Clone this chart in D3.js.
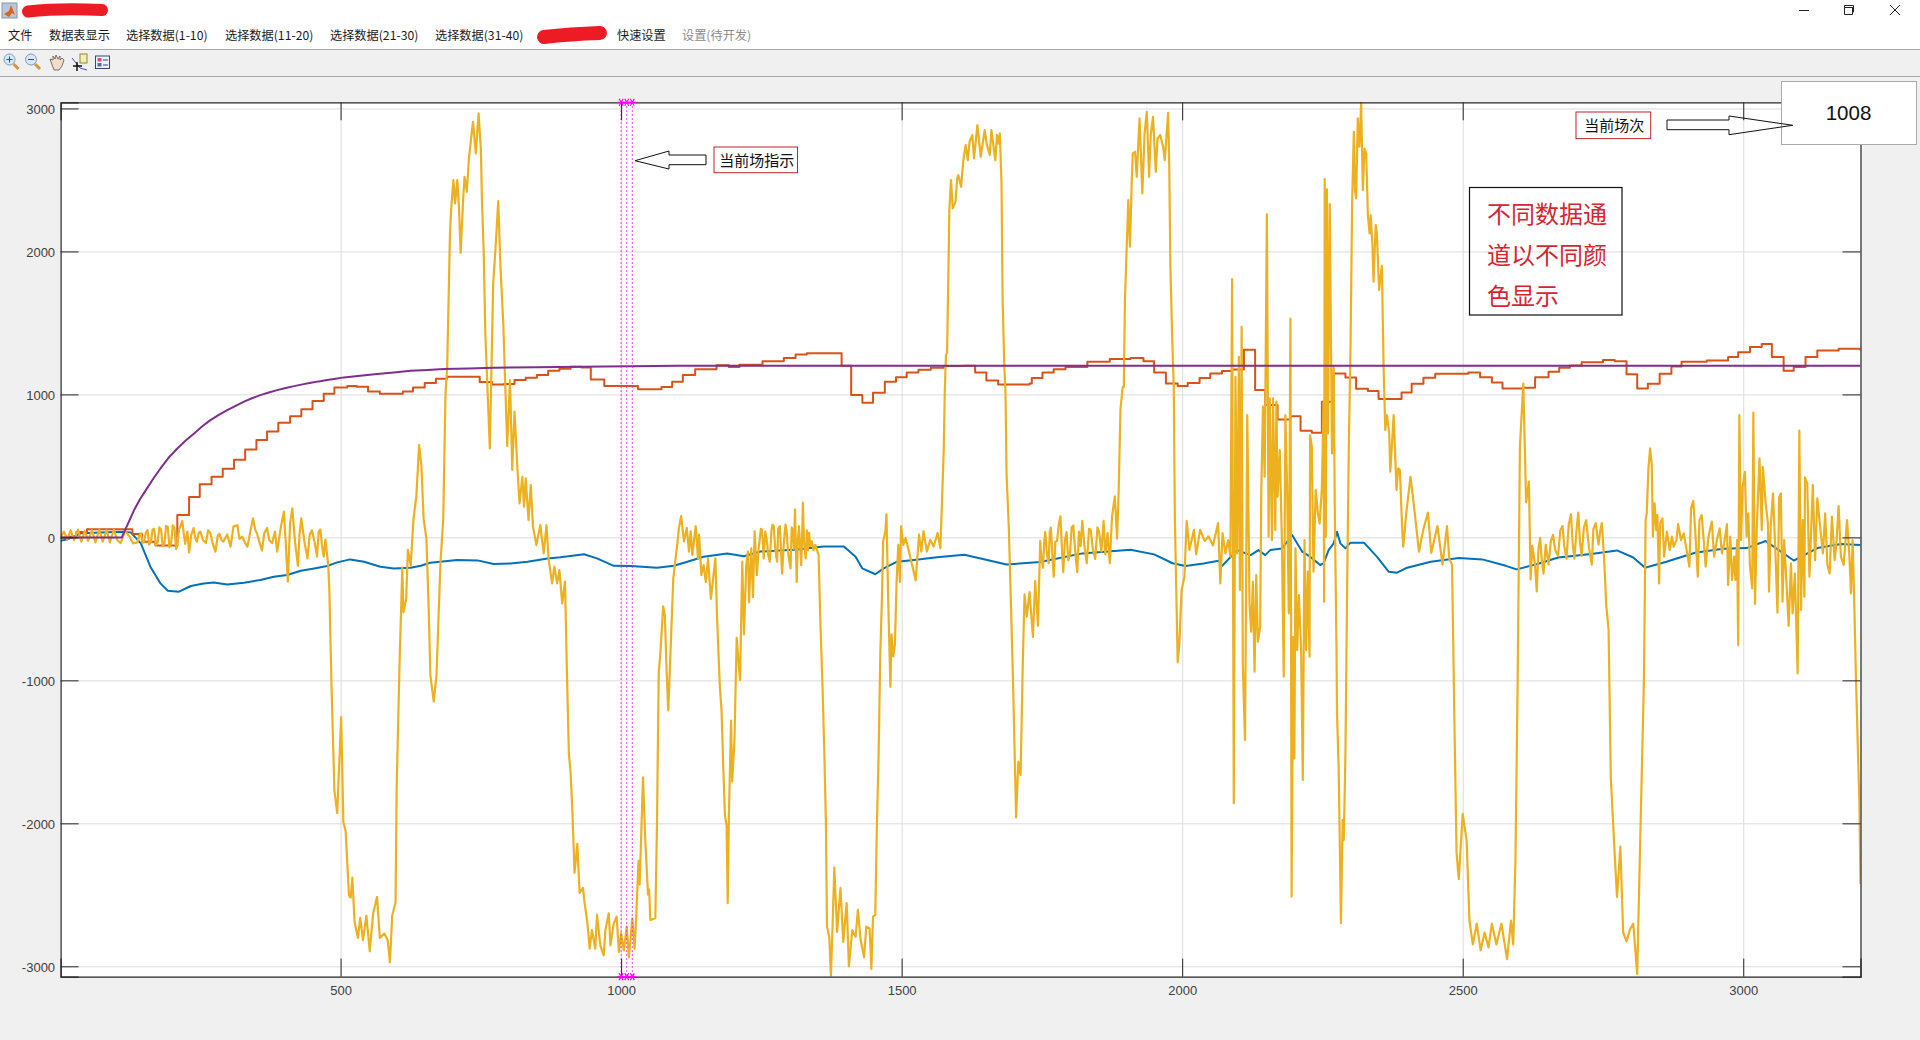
<!DOCTYPE html>
<html>
<head>
<meta charset="utf-8">
<script src="https://cdn.jsdelivr.net/npm/d3@7"></script>
<style>
    html, body { margin: 0; padding: 0; background: #f0f0f0; overflow: hidden; }
    text { font-family: "Noto Sans CJK SC", "Liberation Sans", sans-serif; }
    .axis text { font-family: "Liberation Sans", Arial, sans-serif; font-size: 13px; fill: #404040; }
</style>
</head>
<body>
<div id="chart"></div>
<script>
// tick values
const xTicks = [500, 1000, 1500, 2000, 2500, 3000];
const yTicks = [-3000, -2000, -1000, 0, 1000, 2000, 3000];

// current scene indicator (data index)
const sceneMarks = [1000, 1010, 1020];
const sceneNumber = "1008";

const menuItems = ["文件", "数据表显示", "选择数据(1-10)", "选择数据(11-20)", "选择数据(21-30)", "选择数据(31-40)", "快速设置", "设置(待开发)"];
const noteLines = ["不同数据通", "道以不同颜", "色显示"];

// channel 1, blue
const blueData = [[1,-23],[13,-14],[37,28],[110,40],[126,35],[144,-42],[161,-205],[179,-322],[192,-373],[212,-380],[233,-340],[256,-322],[274,-315],[298,-329],[328,-317],[357,-298],[381,-275],[405,-263],[429,-233],[453,-217],[476,-200],[494,-175],[517,-154],[542,-170],[571,-205],[595,-217],[625,-212],[643,-198],[660,-177],[708,-159],[744,-161],[773,-186],[803,-182],[833,-170],[869,-147],[892,-139],[934,-118],[957,-147],[987,-199],[1017,-201],[1064,-213],[1094,-199],[1118,-170],[1147,-135],[1189,-113],[1219,-132],[1248,-99],[1308,-87],[1361,-64],[1397,-64],[1418,-135],[1430,-217],[1453,-258],[1468,-217],[1492,-170],[1522,-158],[1563,-139],[1612,-122],[1687,-190],[1747,-172],[1822,-112],[1908,-87],[1950,-119],[1983,-181],[2006,-200],[2038,-182],[2065,-163],[2071,-200],[2098,-89],[2122,-124],[2136,-89],[2148,-124],[2157,-89],[2178,-77],[2196,16],[2214,-100],[2228,-135],[2246,-193],[2252,-182],[2261,-89],[2270,-42],[2276,40],[2282,-42],[2291,-77],[2300,-37],[2324,-37],[2347,-135],[2368,-240],[2383,-247],[2401,-212],[2443,-170],[2493,-145],[2535,-154],[2577,-199],[2596,-224],[2636,-183],[2670,-141],[2729,-116],[2775,-91],[2804,-141],[2825,-212],[2863,-170],[2914,-108],[2964,-79],[3006,-75],[3040,-25],[3090,-162],[3132,-75],[3174,-46],[3209,-54]];

// channel 2, red-orange, stepped
const redData = [[1,0],[10,5],[29,37],[48,56],[114,56],[129,23],[146,-30],[170,-56],[209,156],[230,282],[249,371],[270,424],[290,480],[310,543],[330,615],[350,681],[369,741],[389,802],[410,848],[430,897],[450,953],[470,1005],[489,1049],[512,1058],[529,1054],[549,1021],[570,1005],[611,1021],[629,1049],[650,1079],[670,1110],[690,1123],[748,1086],[770,1070],[791,1072],[810,1100],[830,1116],[850,1135],[870,1165],[890,1180],[910,1193],[929,1188],[946,1104],[970,1058],[1030,1036],[1072,1051],[1091,1089],[1110,1136],[1132,1176],[1170,1204],[1192,1192],[1211,1207],[1252,1232],[1290,1254],[1311,1279],[1331,1288],[1391,1288],[1393,1201],[1410,995],[1430,942],[1449,1011],[1470,1089],[1490,1120],[1509,1154],[1530,1173],[1552,1186],[1575,1198],[1610,1201],[1631,1154],[1651,1098],[1672,1070],[1728,1076],[1732,1114],[1751,1154],[1771,1176],[1792,1192],[1831,1229],[1871,1248],[1908,1254],[1931,1232],[1950,1154],[1971,1076],[1988,1077],[1992,1058],[2010,1079],[2031,1114],[2050,1147],[2071,1163],[2089,1175],[2110,1312],[2130,1030],[2148,925],[2170,825],[2193,848],[2211,746],[2231,732],[2249,949],[2270,1147],[2291,1119],[2310,1040],[2331,1023],[2350,967],[2391,1013],[2409,1075],[2430,1116],[2451,1145],[2510,1154],[2531,1120],[2552,1083],[2571,1042],[2607,1046],[2629,1120],[2653,1158],[2672,1187],[2691,1203],[2712,1224],[2750,1241],[2771,1232],[2792,1141],[2811,1042],[2830,1075],[2851,1145],[2872,1195],[2890,1228],[2935,1237],[2973,1262],[2991,1295],[3012,1332],[3033,1353],[3051,1262],[3072,1166],[3090,1191],[3111,1262],[3132,1307],[3170,1320],[3209,1307]];

// channel 3, yellow
const yellowData = [[1,0],[7,40],[13,-15],[19,50],[25,-20],[32,55],[38,-30],[44,45],[50,-25],[57,50],[63,-35],[70,55],[76,-30],[83,50],[89,-35],[96,55],[102,-20],[108,-40],[116,45],[124,5],[130,-42],[138,-35],[141,10],[144,30],[147,-40],[150,-25],[153,35],[156,50],[159,-50],[162,-30],[165,55],[168,60],[171,-55],[174,-35],[177,70],[180,55],[183,-60],[186,-50],[189,80],[192,75],[195,-70],[198,-40],[201,85],[204,65],[207,-80],[209,-60],[212,60],[214,70],[218,115],[221,10],[223,-45],[227,40],[230,-105],[234,20],[238,65],[241,-5],[244,-30],[247,30],[250,40],[255,-20],[260,-40],[264,50],[268,30],[272,-40],[277,-100],[281,10],[284,25],[288,-20],[291,-30],[298,20],[304,-65],[309,75],[316,85],[320,-10],[325,5],[330,-40],[334,-65],[339,40],[344,133],[348,50],[351,30],[355,-30],[360,-93],[364,30],[369,65],[373,-20],[378,-40],[383,40],[387,-100],[393,60],[399,180],[402,-20],[406,-310],[410,100],[414,203],[419,-40],[424,-200],[427,30],[430,133],[436,-40],[441,-147],[445,20],[449,50],[454,-40],[458,-135],[461,40],[464,55],[467,-60],[470,-135],[473,-15],[478,-193],[480,-368],[484,-1055],[489,-1772],[494,-1928],[501,-1257],[505,-1990],[509,-2053],[515,-2505],[518,-2520],[521,-2380],[525,-2692],[531,-2802],[535,-2661],[540,-2817],[546,-2646],[552,-2895],[558,-2630],[565,-2515],[570,-2802],[578,-2770],[584,-2817],[588,-2973],[592,-2646],[598,-2552],[600,-1740],[605,-898],[610,-212],[612,-524],[617,-430],[620,-87],[625,-197],[630,131],[635,287],[640,646],[644,505],[648,131],[653,-9],[657,-493],[660,-961],[666,-1148],[671,-961],[678,-181],[683,131],[687,1005],[690,1193],[695,2126],[697,2289],[701,2499],[704,2336],[708,2499],[711,2312],[714,1990],[719,2406],[721,2522],[725,2417],[729,2662],[736,2907],[741,2685],[746,2965],[750,2720],[752,2359],[755,2009],[758,1427],[766,622],[769,1193],[772,1776],[776,2009],[781,2352],[785,1893],[790,1496],[794,1007],[797,639],[802,1100],[806,471],[810,879],[815,494],[819,238],[824,424],[827,214],[830,413],[835,121],[839,366],[843,75],[849,-54],[856,86],[862,-112],[867,86],[871,-159],[877,-322],[881,-205],[886,-322],[890,-228],[895,-461],[900,-310],[904,-1045],[907,-1518],[910,-1648],[913,-1896],[917,-2345],[922,-2144],[926,-2487],[932,-2451],[935,-2558],[940,-2700],[944,-2877],[948,-2747],[954,-2877],[957,-2640],[963,-2853],[969,-2924],[972,-2747],[978,-2629],[981,-2853],[987,-2700],[992,-2652],[996,-2900],[1000,-2770],[1005,-2889],[1010,-2723],[1014,-2936],[1020,-2664],[1024,-2877],[1027,-2652],[1031,-2262],[1033,-2428],[1036,-2061],[1039,-1678],[1043,-2109],[1048,-2499],[1050,-2463],[1052,-2676],[1061,-2664],[1064,-1990],[1067,-950],[1070,-808],[1075,-482],[1078,-548],[1081,-927],[1084,-1210],[1088,-808],[1093,-288],[1097,-147],[1100,-52],[1103,66],[1107,149],[1112,-28],[1117,66],[1121,-99],[1124,43],[1127,-123],[1133,78],[1137,-147],[1139,19],[1143,-265],[1147,-194],[1151,-312],[1155,-147],[1160,-430],[1164,-288],[1168,-147],[1171,-560],[1176,-1045],[1179,-1210],[1182,-1600],[1185,-1943],[1188,-2014],[1190,-2558],[1192,-1967],[1196,-1281],[1198,-1707],[1202,-1423],[1206,-702],[1209,-856],[1212,-998],[1216,-170],[1219,-678],[1223,-194],[1226,-99],[1228,-454],[1232,-76],[1235,-418],[1238,43],[1240,-120],[1242,-265],[1245,-80],[1247,-17],[1249,60],[1251,54],[1253,-60],[1254,-147],[1257,40],[1260,-28],[1262,-120],[1265,-170],[1268,50],[1270,90],[1272,78],[1275,-90],[1278,-170],[1280,60],[1283,78],[1285,-100],[1287,-253],[1290,-40],[1293,90],[1295,43],[1298,-120],[1302,-217],[1304,70],[1306,54],[1308,-80],[1310,196],[1312,-150],[1313,-312],[1315,-20],[1317,78],[1319,-60],[1321,-194],[1323,60],[1324,243],[1326,-40],[1329,-147],[1331,50],[1333,-90],[1335,31],[1337,-60],[1340,-28],[1343,-90],[1346,-52],[1352,-123],[1355,-572],[1359,-1045],[1362,-1470],[1365,-1990],[1367,-2723],[1371,-2794],[1374,-3066],[1377,-2700],[1380,-2310],[1385,-2759],[1391,-2451],[1396,-2830],[1402,-2558],[1406,-3000],[1412,-2747],[1418,-2794],[1422,-2605],[1427,-2818],[1433,-2936],[1437,-2723],[1443,-2735],[1446,-3019],[1449,-2652],[1453,-2640],[1456,-1990],[1459,-1518],[1462,-808],[1465,-407],[1467,-28],[1471,43],[1473,161],[1476,-430],[1480,-1045],[1482,-678],[1485,-832],[1488,-749],[1491,-312],[1494,-52],[1497,-312],[1499,78],[1503,-52],[1507,-5],[1513,-99],[1525,-300],[1531,19],[1535,-99],[1539,43],[1545,-99],[1551,-17],[1557,-64],[1564,31],[1569,-76],[1572,255],[1575,610],[1577,1040],[1579,1275],[1581,1290],[1584,2009],[1585,2289],[1588,2499],[1591,2301],[1596,2347],[1599,2510],[1601,2534],[1606,2452],[1610,2639],[1614,2744],[1618,2639],[1621,2767],[1626,2814],[1629,2650],[1635,2883],[1641,2662],[1648,2849],[1652,2744],[1657,2674],[1660,2849],[1667,2639],[1670,2814],[1672,2755],[1675,2825],[1678,2476],[1680,1660],[1683,1193],[1685,1030],[1687,443],[1691,69],[1695,-493],[1698,-930],[1701,-1429],[1704,-1959],[1708,-1569],[1712,-1663],[1716,-867],[1719,-399],[1723,-555],[1728,-382],[1734,-696],[1738,-306],[1743,-618],[1747,-25],[1749,-150],[1752,-212],[1754,-40],[1756,37],[1759,-120],[1762,-181],[1764,40],[1766,69],[1769,-150],[1771,-275],[1774,-30],[1777,-25],[1780,90],[1783,147],[1786,-100],[1788,-243],[1791,-20],[1794,37],[1797,-160],[1800,-119],[1803,70],[1806,84],[1810,-130],[1813,-243],[1816,40],[1819,-60],[1822,115],[1826,-70],[1830,-181],[1834,60],[1837,53],[1841,-90],[1845,-150],[1849,70],[1852,37],[1856,-100],[1860,115],[1863,-119],[1867,30],[1871,-181],[1875,147],[1880,287],[1884,-9],[1887,349],[1890,895],[1894,1051],[1896,1053],[1898,1660],[1901,2009],[1904,2359],[1907,2033],[1910,2476],[1912,2685],[1916,2697],[1919,2522],[1924,2930],[1929,2406],[1933,2825],[1937,2977],[1941,2522],[1944,2814],[1948,2942],[1953,2557],[1956,2790],[1961,2814],[1966,2732],[1969,2639],[1975,2970],[1977,2592],[1979,1893],[1982,1427],[1985,1053],[1987,131],[1992,-874],[1995,-743],[1999,-368],[2004,-275],[2008,115],[2013,-87],[2021,53],[2025,-119],[2032,53],[2040,-25],[2047,6],[2055,-56],[2064,100],[2068,-322],[2072,30],[2077,-112],[2082,-19],[2086,-135],[2089,1806],[2092,-1860],[2095,1123],[2098,-112],[2101,1263],[2103,-368],[2106,1473],[2108,-881],[2112,-1417],[2116,855],[2119,-112],[2120,-461],[2123,-660],[2126,-310],[2129,-939],[2132,-263],[2135,-730],[2139,-625],[2141,319],[2144,914],[2147,424],[2151,2259],[2154,5],[2156,972],[2160,-19],[2162,972],[2166,51],[2168,949],[2170,284],[2174,611],[2178,-70],[2181,-974],[2184,855],[2187,354],[2190,-531],[2193,1531],[2195,-2512],[2198,-695],[2200,-1545],[2202,-77],[2205,-788],[2208,-403],[2212,-788],[2215,-1697],[2218,-19],[2221,-788],[2224,-240],[2227,-835],[2228,716],[2231,634],[2234,-240],[2238,331],[2242,168],[2245,98],[2249,343],[2252,949],[2253,-450],[2254,2506],[2256,5],[2258,2434],[2260,727],[2263,2331],[2267,587],[2270,1193],[2272,214],[2275,-765],[2276,-1231],[2279,-1627],[2283,-2699],[2286,-1977],[2288,-2117],[2291,-1510],[2294,-345],[2297,634],[2300,1310],[2303,2359],[2306,2837],[2308,2429],[2310,2371],[2313,2930],[2316,2732],[2319,3040],[2322,2429],[2325,2720],[2328,2685],[2331,2254],[2334,2126],[2336,2254],[2339,2056],[2341,1788],[2345,2184],[2347,2126],[2351,1730],[2356,1900],[2359,1193],[2362,751],[2365,855],[2369,727],[2371,459],[2377,855],[2382,331],[2385,483],[2388,471],[2392,75],[2394,-65],[2400,191],[2407,423],[2413,224],[2422,-100],[2430,58],[2438,174],[2444,-108],[2455,79],[2464,-191],[2472,79],[2476,-149],[2481,-191],[2485,-1228],[2489,-2204],[2493,-2390],[2500,-1934],[2507,-2121],[2512,-2681],[2518,-2847],[2525,-2702],[2532,-2888],[2539,-2764],[2546,-2868],[2552,-2702],[2560,-2847],[2569,-2702],[2579,-2950],[2586,-2681],[2590,-2847],[2594,-2266],[2598,-979],[2602,639],[2608,1075],[2613,245],[2618,390],[2621,-295],[2624,-60],[2626,-108],[2629,-200],[2632,-378],[2635,-80],[2638,-4],[2641,-160],[2644,-253],[2648,-50],[2653,-191],[2657,-30],[2661,17],[2665,-90],[2670,-129],[2674,50],[2678,79],[2681,-60],[2685,-149],[2689,90],[2693,162],[2696,-40],[2699,-149],[2703,60],[2706,174],[2709,-30],[2712,-129],[2716,70],[2720,120],[2725,-70],[2730,-191],[2733,60],[2737,100],[2742,-50],[2745,40],[2748,100],[2752,-149],[2756,-481],[2760,-647],[2764,-1685],[2771,-2224],[2775,-2515],[2781,-2162],[2786,-2764],[2792,-2826],[2798,-2743],[2804,-2702],[2811,-3054],[2817,-2017],[2823,-998],[2826,121],[2828,168],[2831,483],[2834,622],[2837,506],[2839,5],[2842,238],[2845,51],[2847,156],[2850,-322],[2852,98],[2856,133],[2859,-135],[2864,40],[2869,-89],[2873,5],[2876,-65],[2881,-19],[2884,93],[2889,-19],[2894,28],[2898,-65],[2904,-205],[2907,203],[2911,256],[2914,75],[2919,-275],[2922,121],[2926,156],[2930,-42],[2933,-205],[2938,5],[2944,110],[2948,-135],[2953,-19],[2958,63],[2962,-112],[2966,-42],[2971,93],[2973,-333],[2977,5],[2980,-298],[2984,-135],[2986,-298],[2989,-19],[2991,-753],[2993,855],[2996,-19],[2999,354],[3003,459],[3006,5],[3009,168],[3012,-205],[3016,-357],[3018,872],[3021,-466],[3024,51],[3029,552],[3033,51],[3035,494],[3040,238],[3044,98],[3046,-380],[3049,75],[3053,308],[3057,-65],[3061,-527],[3064,280],[3067,308],[3070,-450],[3073,-19],[3078,-392],[3081,-620],[3085,-182],[3088,-531],[3092,-252],[3097,-951],[3100,746],[3103,-508],[3106,121],[3109,-415],[3110,420],[3114,378],[3118,-275],[3124,366],[3128,-159],[3132,273],[3137,75],[3142,-112],[3146,168],[3150,-193],[3154,-252],[3158,145],[3163,-159],[3166,-42],[3170,219],[3174,-135],[3179,-193],[3185,121],[3189,-112],[3192,-392],[3195,-19],[3198,-473],[3201,-998],[3204,-1436],[3207,-1851],[3209,-2424]];

// channel 4, purple
const purpleData = [[1,0],[110,0],[132,191],[143,270],[155,343],[167,415],[179,482],[193,555],[209,622],[224,677],[239,727],[253,775],[268,820],[283,857],[298,890],[313,920],[328,949],[342,973],[357,995],[372,1013],[387,1030],[402,1045],[417,1058],[432,1070],[447,1081],[461,1091],[476,1100],[491,1110],[506,1119],[535,1131],[565,1142],[595,1154],[625,1165],[655,1171],[684,1177],[728,1182],[773,1186],[850,1190],[928,1193],[1100,1200],[3209,1200]];

const width = 1920, height = 1040;
const plot = {left: 60.6, right: 1860.5, top: 102.3, bottom: 976.6};

const svg = d3.select("#chart").append("svg")
    .attr("width", width)
    .attr("height", height)
    .style("display", "block");

// window frame
svg.append("rect").attr("width", width).attr("height", height).attr("fill", "#f0f0f0");
svg.append("rect").attr("width", width).attr("height", 49).attr("fill", "#ffffff");
svg.append("line").attr("x1", 0).attr("x2", width).attr("y1", 49.5).attr("y2", 49.5).attr("stroke", "#a8a8a8");
svg.append("line").attr("x1", 0).attr("x2", width).attr("y1", 76.5).attr("y2", 76.5).attr("stroke", "#a8a8a8");

// matlab logo
svg.append("rect").attr("x", 2).attr("y", 3).attr("width", 15).attr("height", 15).attr("fill", "#b9c6d6").attr("stroke", "#8a97a8");
svg.append("path").attr("d", "M4,14 L9,11 L11,5 L15,15 L12,13 L9,17 Z").attr("fill", "#d9641e");

// scribbled out title
svg.append("path").attr("d", "M28,11.5 Q60,8 102,10").attr("fill", "none").attr("stroke", "#ed1c24")
    .attr("stroke-width", 12).attr("stroke-linecap", "round");

// menu
const menuX = [8, 49, 126, 225, 330, 435, 617, 682];
svg.selectAll(".menu").data(menuItems).enter().append("text")
    .attr("class", "menu")
    .attr("x", (d, i) => menuX[i])
    .attr("y", 40)
    .attr("font-size", 12.2)
    .attr("fill", (d, i) => i === 7 ? "#8a8a8a" : "#1a1a1a")
    .text(d => d);
svg.append("path").attr("d", "M544,37 Q570,34 600,33").attr("fill", "none").attr("stroke", "#ed1c24")
    .attr("stroke-width", 14).attr("stroke-linecap", "round");

// window buttons
svg.append("path").attr("d", "M1799,10.5 H1809").attr("stroke", "#222").attr("fill", "none");
svg.append("path").attr("d", "M1844.5,7.5 H1852.5 V13.5 M1844.5,7.5 V5.5 H1853.5 V12 H1852.5 M1844.5,7.5 V14.5 H1852.5 V7.5").attr("stroke", "#222").attr("fill", "none");
svg.append("path").attr("d", "M1890,5 L1900,15 M1900,5 L1890,15").attr("stroke", "#222").attr("fill", "none");

// toolbar icons
[[9.5, "plus"], [31, "minus"]].forEach(([cx, kind]) => {
    svg.append("line").attr("x1", cx + 4).attr("y1", 64).attr("x2", cx + 9).attr("y2", 69)
        .attr("stroke", "#d9963a").attr("stroke-width", 3);
    svg.append("circle").attr("cx", cx).attr("cy", 59.5).attr("r", 5.5)
        .attr("fill", "#d6e8f6").attr("stroke", "#7d9cb8");
    svg.append("path").attr("d", kind === "plus"
        ? `M${cx - 3},59.5 H${cx + 3} M${cx},56.5 V62.5` : `M${cx - 3},59.5 H${cx + 3}`)
        .attr("stroke", "#2b4f7a").attr("fill", "none");
});
svg.append("path").attr("d", "M51,62 L50,59 L53,60 L53,56 L55,59 L56,55 L58,59 L60,56 L60,60 L62,58 L64,60 L62,66 L59,70 L54,70 Z")
    .attr("fill", "#f3dcc8").attr("stroke", "#555").attr("stroke-width", 0.8);
svg.append("rect").attr("x", 80).attr("y", 54).attr("width", 7).attr("height", 9).attr("fill", "#f6eeb0").attr("stroke", "#8a8a3a");
svg.append("path").attr("d", "M72,58 L80,68 L87,70").attr("fill", "none").attr("stroke", "#2222aa").attr("stroke-width", 0.8);
svg.append("path").attr("d", "M73,66 H82 M77,62 V71").attr("stroke", "#111").attr("stroke-width", 1.5).attr("fill", "none");
svg.append("rect").attr("x", 95.5).attr("y", 56).attr("width", 14).attr("height", 12.5).attr("fill", "#eef2f8").attr("stroke", "#334a77");
svg.append("rect").attr("x", 97.5).attr("y", 58).attr("width", 4).attr("height", 3.5).attr("fill", "#cc5566");
svg.append("rect").attr("x", 97.5).attr("y", 63).attr("width", 4).attr("height", 3.5).attr("fill", "#5566bb");
svg.append("path").attr("d", "M103,60 H108 M103,65 H108").attr("stroke", "#334a77").attr("fill", "none");

// scales
const x = d3.scaleLinear().domain([1, 3209]).range([plot.left, plot.right]);
const y = d3.scaleLinear().domain([-3072, 3043]).range([plot.bottom, plot.top]);

svg.append("rect")
    .attr("x", plot.left).attr("y", plot.top)
    .attr("width", plot.right - plot.left).attr("height", plot.bottom - plot.top)
    .attr("fill", "#ffffff");

// grid
const plotH = plot.bottom - plot.top, plotW = plot.right - plot.left;
const gridX = svg.append("g").attr("transform", `translate(0,${plot.bottom})`)
    .call(d3.axisBottom(x).tickValues(xTicks).tickSize(-plotH).tickFormat(""));
const gridY = svg.append("g").attr("transform", `translate(${plot.left},0)`)
    .call(d3.axisLeft(y).tickValues(yTicks).tickSize(-plotW).tickFormat(""));
[gridX, gridY].forEach(g => {
    g.select(".domain").remove();
    g.selectAll("line").attr("stroke", "#dcdcdc").attr("stroke-width", 1);
});

// series
const line = d3.line().x(d => x(d[0])).y(d => y(d[1]));
const stepLine = d3.line().x(d => x(d[0])).y(d => y(d[1])).curve(d3.curveStepAfter);

svg.append("clipPath").attr("id", "plotclip").append("rect")
    .attr("x", plot.left).attr("y", plot.top - 1).attr("width", plotW).attr("height", plotH + 2);

const lines = svg.append("g").attr("clip-path", "url(#plotclip)").attr("fill", "none").attr("stroke-linejoin", "round");
lines.append("path").attr("d", line(blueData)).attr("stroke", "#0072BD").attr("stroke-width", 2);
lines.append("path").attr("d", stepLine(redData)).attr("stroke", "#D95319").attr("stroke-width", 2);
lines.append("path").attr("d", line(yellowData)).attr("stroke", "#EDB120").attr("stroke-width", 2.2);
lines.append("path").attr("d", line(purpleData)).attr("stroke", "#7E2F8E").attr("stroke-width", 2);

// scene indicator lines
sceneMarks.forEach(m => {
    svg.append("line")
        .attr("x1", x(m)).attr("x2", x(m))
        .attr("y1", plot.top).attr("y2", plot.bottom)
        .attr("stroke", "#ff00ff").attr("stroke-width", 1).attr("stroke-dasharray", "1.5,2.5");
});

// axes, ticks point inwards on all four sides
const axisB = svg.append("g").attr("class", "axis").attr("transform", `translate(0,${plot.bottom})`)
    .call(d3.axisBottom(x).tickValues(xTicks).tickSize(-18).tickPadding(9).tickFormat(String));
const axisT = svg.append("g").attr("class", "axis").attr("transform", `translate(0,${plot.top})`)
    .call(d3.axisTop(x).tickValues(xTicks).tickSize(-18).tickFormat(""));
const axisL = svg.append("g").attr("class", "axis").attr("transform", `translate(${plot.left},0)`)
    .call(d3.axisLeft(y).tickValues(yTicks).tickSize(-18).tickPadding(5.5).tickFormat(String));
const axisR = svg.append("g").attr("class", "axis").attr("transform", `translate(${plot.right},0)`)
    .call(d3.axisRight(y).tickValues(yTicks).tickSize(-18).tickFormat(""));
[axisB, axisT, axisL, axisR].forEach(g => {
    g.selectAll("line").attr("stroke", "#262626");
    g.select(".domain").attr("stroke", "#262626").attr("stroke-width", 1.2);
});
axisL.selectAll("text").attr("dy", "0.42em");

// asterisk markers on top and bottom edge
const asterisk = "M-4,0 H4 M-2,-3.5 L2,3.5 M2,-3.5 L-2,3.5";
sceneMarks.forEach(m => {
    [plot.top, plot.bottom].forEach(py => {
        svg.append("path").attr("d", asterisk)
            .attr("transform", `translate(${x(m)},${py})`)
            .attr("stroke", "#ff00ff").attr("stroke-width", 1.2).attr("fill", "none");
    });
});

// annotations
function labelBox(x0, y0, x1, y1, label) {
    svg.append("rect").attr("x", x0).attr("y", y0).attr("width", x1 - x0).attr("height", y1 - y0)
        .attr("fill", "#ffffff").attr("stroke", "#c0272d").attr("stroke-width", 1);
    svg.append("text").attr("x", (x0 + x1) / 2 + 1).attr("y", (y0 + y1) / 2 + 6)
        .attr("text-anchor", "middle").attr("font-size", 15).attr("fill", "#111").text(label);
}
labelBox(714, 147, 797.5, 172.7, "当前场指示");
labelBox(1576, 112, 1650.7, 138.6, "当前场次");

svg.append("path")
    .attr("d", "M635,160.7 L669,151 V155 H706 V164.7 H669 V169 Z")
    .attr("fill", "none").attr("stroke", "#111").attr("stroke-width", 1);

// number box
svg.append("rect").attr("x", 1781.5).attr("y", 81.5).attr("width", 135).attr("height", 63)
    .attr("fill", "#ffffff").attr("stroke", "#aaaaaa");
svg.append("text").attr("x", 1848.5).attr("y", 119.5).attr("text-anchor", "middle")
    .attr("font-size", 20.5).style("font-family", "'Liberation Sans', Arial, sans-serif").attr("fill", "#111").text(sceneNumber);

svg.append("path")
    .attr("d", "M1667,120 H1729 V116 L1792.7,125.3 L1729,134.7 V129.7 H1667 Z")
    .attr("fill", "none").attr("stroke", "#111").attr("stroke-width", 1);

// note
svg.append("rect").attr("x", 1469.5).attr("y", 187.5).attr("width", 152.5).attr("height", 127.5)
    .attr("fill", "none").attr("stroke", "#111").attr("stroke-width", 1.2);
svg.selectAll(".note").data(noteLines).enter().append("text")
    .attr("class", "note")
    .attr("x", 1487)
    .attr("y", (d, i) => 223 + i * 41)
    .attr("font-size", 24)
    .attr("fill", "#d7262f")
    .text(d => d);
</script>
</body>
</html>
